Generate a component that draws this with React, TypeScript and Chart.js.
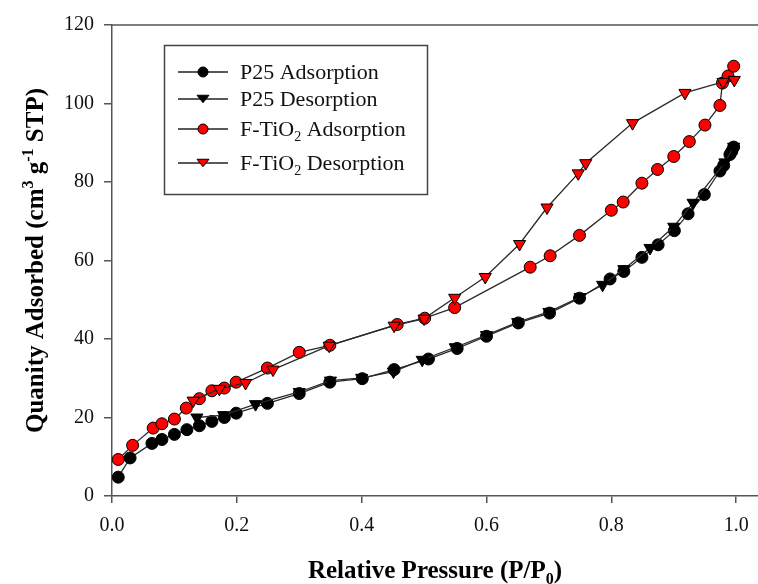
import React, { useEffect, useRef } from "react";
import { Chart, registerables } from "chart.js";

Chart.register(...registerables);

// ---- data ----
const p25AdsX = [0.010, 0.029, 0.064, 0.080, 0.100, 0.120, 0.140, 0.160, 0.180, 0.199, 0.249, 0.300, 0.349, 0.401, 0.452, 0.507, 0.553, 0.600, 0.651, 0.701, 0.749, 0.798, 0.820, 0.849, 0.875, 0.901, 0.923, 0.949, 0.974, 0.980, 0.990, 0.993, 0.996];
const p25AdsY = [4.8, 9.7, 13.4, 14.4, 15.7, 16.9, 17.9, 19.0, 20.0, 21.1, 23.6, 26.1, 29.0, 29.9, 32.2, 34.9, 37.6, 40.7, 44.1, 46.6, 50.4, 55.3, 57.2, 60.8, 64.0, 67.6, 71.9, 76.8, 82.8, 84.2, 87.0, 87.8, 88.9];

const p25DesX = [0.996, 0.982, 0.931, 0.900, 0.862, 0.820, 0.786, 0.750, 0.700, 0.650, 0.600, 0.550, 0.497, 0.451, 0.400, 0.350, 0.300, 0.230, 0.179, 0.136];
const p25DesY = [89.0, 85.0, 74.7, 68.6, 63.2, 57.8, 53.8, 50.7, 46.9, 44.3, 41.0, 37.9, 34.7, 31.7, 30.1, 29.4, 26.5, 23.4, 20.6, 20.0];

const tiAdsX = [0.010, 0.033, 0.066, 0.080, 0.100, 0.119, 0.140, 0.160, 0.180, 0.199, 0.249, 0.300, 0.349, 0.457, 0.501, 0.549, 0.670, 0.702, 0.749, 0.800, 0.819, 0.849, 0.874, 0.900, 0.925, 0.950, 0.974, 0.978, 0.987, 0.996];
const tiAdsY = [9.3, 12.9, 17.3, 18.4, 19.6, 22.4, 24.8, 26.8, 27.5, 29.0, 32.6, 36.6, 38.4, 43.7, 45.3, 48.0, 58.3, 61.2, 66.4, 72.8, 74.9, 79.7, 83.2, 86.5, 90.3, 94.5, 99.5, 105.2, 107.0, 109.5];

const tiDesX = [0.997, 0.979, 0.918, 0.834, 0.759, 0.747, 0.697, 0.653, 0.598, 0.549, 0.500, 0.452, 0.348, 0.258, 0.214, 0.172, 0.130];
const tiDesY = [106.0, 105.5, 102.7, 95.0, 84.8, 82.2, 73.5, 64.2, 55.8, 50.5, 45.2, 43.4, 38.3, 32.2, 28.8, 27.3, 24.3];

const xTicks = [0, 0.2, 0.4, 0.6, 0.8, 1.0];
const yTicks = [0, 20, 40, 60, 80, 100, 120];

type Seg = { t: string; sup?: boolean; sub?: boolean };

const legendItems: { label: Seg[]; fill: string; style: "circle" | "tri" }[] = [
  { label: [{ t: "P25 Adsorption" }], fill: "#000000", style: "circle" },
  { label: [{ t: "P25 Desorption" }], fill: "#000000", style: "tri" },
  { label: [{ t: "F-TiO" }, { t: "2", sub: true }, { t: " Adsorption" }], fill: "#ff0000", style: "circle" },
  { label: [{ t: "F-TiO" }, { t: "2", sub: true }, { t: " Desorption" }], fill: "#ff0000", style: "tri" },
];

const yTitle: Seg[] = [
  { t: "Quanity Adsorbed (cm" },
  { t: "3", sup: true },
  { t: " g" },
  { t: "-1", sup: true },
  { t: " STP)" },
];
const xTitle: Seg[] = [{ t: "Relative Pressure (P/P" }, { t: "0", sub: true }, { t: ")" }];

const SERIF = "'Liberation Serif', 'Times New Roman', serif";

function drawRich(ctx: CanvasRenderingContext2D, segs: Seg[], cx: number, cy: number, size: number, bold: boolean) {
  const w = bold ? "bold " : "";
  const small = Math.round(size * 0.62);
  let total = 0;
  const widths: number[] = [];
  for (const s of segs) {
    ctx.font = `${w}${s.sup || s.sub ? small : size}px ${SERIF}`;
    const m = ctx.measureText(s.t).width;
    widths.push(m);
    total += m;
  }
  let x = cx - total / 2;
  ctx.textBaseline = "alphabetic";
  ctx.textAlign = "left";
  const base = cy + size * 0.33;
  segs.forEach((s, i) => {
    ctx.font = `${w}${s.sup || s.sub ? small : size}px ${SERIF}`;
    let y = base;
    if (s.sup) y = base - size * 0.42;
    if (s.sub) y = base + size * 0.22;
    ctx.fillText(s.t, x, y);
    x += widths[i];
  });
}

function drawRichLeft(ctx: CanvasRenderingContext2D, segs: Seg[], lx: number, cy: number, size: number) {
  const small = Math.round(size * 0.62);
  let x = lx;
  const base = cy + size * 0.33;
  ctx.textBaseline = "alphabetic";
  ctx.textAlign = "left";
  for (const s of segs) {
    ctx.font = `${s.sup || s.sub ? small : size}px ${SERIF}`;
    let y = base;
    if (s.sup) y = base - size * 0.42;
    if (s.sub) y = base + size * 0.22;
    ctx.fillText(s.t, x, y);
    x += ctx.measureText(s.t).width;
  }
}

function drawMarker(ctx: CanvasRenderingContext2D, style: string, x: number, y: number, r: number, fill: string) {
  ctx.beginPath();
  if (style === "circle") {
    ctx.arc(x, y, r, 0, Math.PI * 2);
  } else {
    const h = r * 1.5;
    ctx.moveTo(x - r * 1.2, y - h / 2);
    ctx.lineTo(x + r * 1.2, y - h / 2);
    ctx.lineTo(x, y + h / 2);
    ctx.closePath();
  }
  ctx.fillStyle = fill;
  ctx.fill();
  ctx.lineWidth = 1;
  ctx.strokeStyle = "#000";
  ctx.stroke();
}

const decorPlugin = {
  id: "decor",
  afterDraw(chart: any) {
    const ctx: CanvasRenderingContext2D = chart.ctx;
    const ca = chart.chartArea;
    ctx.save();
    // top frame
    ctx.strokeStyle = "#555";
    ctx.lineWidth = 1.5;
    ctx.beginPath();
    ctx.moveTo(ca.left, ca.top);
    ctx.lineTo(ca.right, ca.top);
    ctx.stroke();

    // titles
    ctx.fillStyle = "#000";
    drawRich(ctx, xTitle, (ca.left + ca.right) / 2, 570, 25, true);
    ctx.save();
    ctx.translate(35, (ca.top + ca.bottom) / 2);
    ctx.rotate(-Math.PI / 2);
    drawRich(ctx, yTitle, 0, 0, 25, true);
    ctx.restore();

    // legend
    ctx.strokeStyle = "#444";
    ctx.lineWidth = 1.5;
    ctx.strokeRect(164.5, 45.5, 263, 149);
    const rows = [72, 99, 129, 163];
    legendItems.forEach((it, i) => {
      const y = rows[i];
      ctx.strokeStyle = "#222";
      ctx.lineWidth = 1.3;
      ctx.beginPath();
      ctx.moveTo(178, y);
      ctx.lineTo(228, y);
      ctx.stroke();
      drawMarker(ctx, it.style, 203, y, 5, it.fill);
      ctx.fillStyle = "#111";
      drawRichLeft(ctx, it.label, 240, y, 22);
    });
    ctx.restore();
  },
};

function pts(xs: number[], ys: number[]) {
  return xs.map((x, i) => ({ x, y: ys[i] }));
}

export default function App() {
  const ref = useRef<HTMLCanvasElement | null>(null);
  useEffect(() => {
    document.body.style.margin = "0";
    if (!ref.current) return;
    const lineCol = "#2a2a2a";
    const common = {
      showLine: true,
      borderColor: lineCol,
      borderWidth: 1.3,
      pointBorderColor: "#000",
      pointBorderWidth: 1,
      pointHoverRadius: 6,
      tension: 0,
    };
    const chart = new Chart(ref.current, {
      type: "scatter",
      data: {
        datasets: [
          { ...common, label: "P25 Desorption", data: pts(p25DesX, p25DesY), pointStyle: "triangle", pointRotation: 180, pointRadius: 7, pointBackgroundColor: "#000" },
          { ...common, label: "P25 Adsorption", data: pts(p25AdsX, p25AdsY), pointStyle: "circle", pointRadius: 6, pointBackgroundColor: "#000" },
          { ...common, label: "F-TiO2 Desorption", data: pts(tiDesX, tiDesY), pointStyle: "triangle", pointRotation: 180, pointRadius: 7, pointBackgroundColor: "#ff0000" },
          { ...common, label: "F-TiO2 Adsorption", data: pts(tiAdsX, tiAdsY), pointStyle: "circle", pointRadius: 6, pointBackgroundColor: "#ff0000" },
        ] as any,
      },
      options: {
        animation: false,
        responsive: false,
        devicePixelRatio: 1,
        layout: { autoPadding: false, padding: { top: 25, right: 0, bottom: 0, left: 0 } },
        plugins: { legend: { display: false }, tooltip: { enabled: false } },
        scales: {
          x: {
            type: "linear",
            min: 0,
            max: 1.035,
            afterBuildTicks: (s: any) => {
              s.ticks = xTicks.map((v) => ({ value: v }));
            },
            afterFit: (s: any) => {
              s.height = 88;
              s.paddingRight = 0;
              s.paddingLeft = 0;
            },
            ticks: {
              font: { family: SERIF, size: 20 },
              color: "#111",
              padding: 11,
              maxRotation: 0,
              callback: (v: any) => Number(v).toFixed(1),
            },
            grid: { drawOnChartArea: false, drawTicks: true, tickLength: 7, color: "#555", lineWidth: 1.5 },
            border: { display: true, color: "#555", width: 1.5 },
          },
          y: {
            type: "linear",
            min: 0,
            max: 120,
            afterBuildTicks: (s: any) => {
              s.ticks = yTicks.map((v) => ({ value: v }));
            },
            afterFit: (s: any) => {
              s.width = 112;
            },
            ticks: {
              font: { family: SERIF, size: 20 },
              color: "#111",
              padding: 10,
              callback: (v: any) => String(v),
            },
            grid: { drawOnChartArea: false, drawTicks: true, tickLength: 8, color: "#555", lineWidth: 1.5 },
            border: { display: true, color: "#555", width: 1.5 },
          },
        },
      } as any,
      plugins: [decorPlugin],
    });
    return () => chart.destroy();
  }, []);
  return (
    <div style={{ width: 758, height: 584, background: "#fff" }}>
      <canvas ref={ref} width={758} height={584} style={{ display: "block" }} />
    </div>
  );
}
